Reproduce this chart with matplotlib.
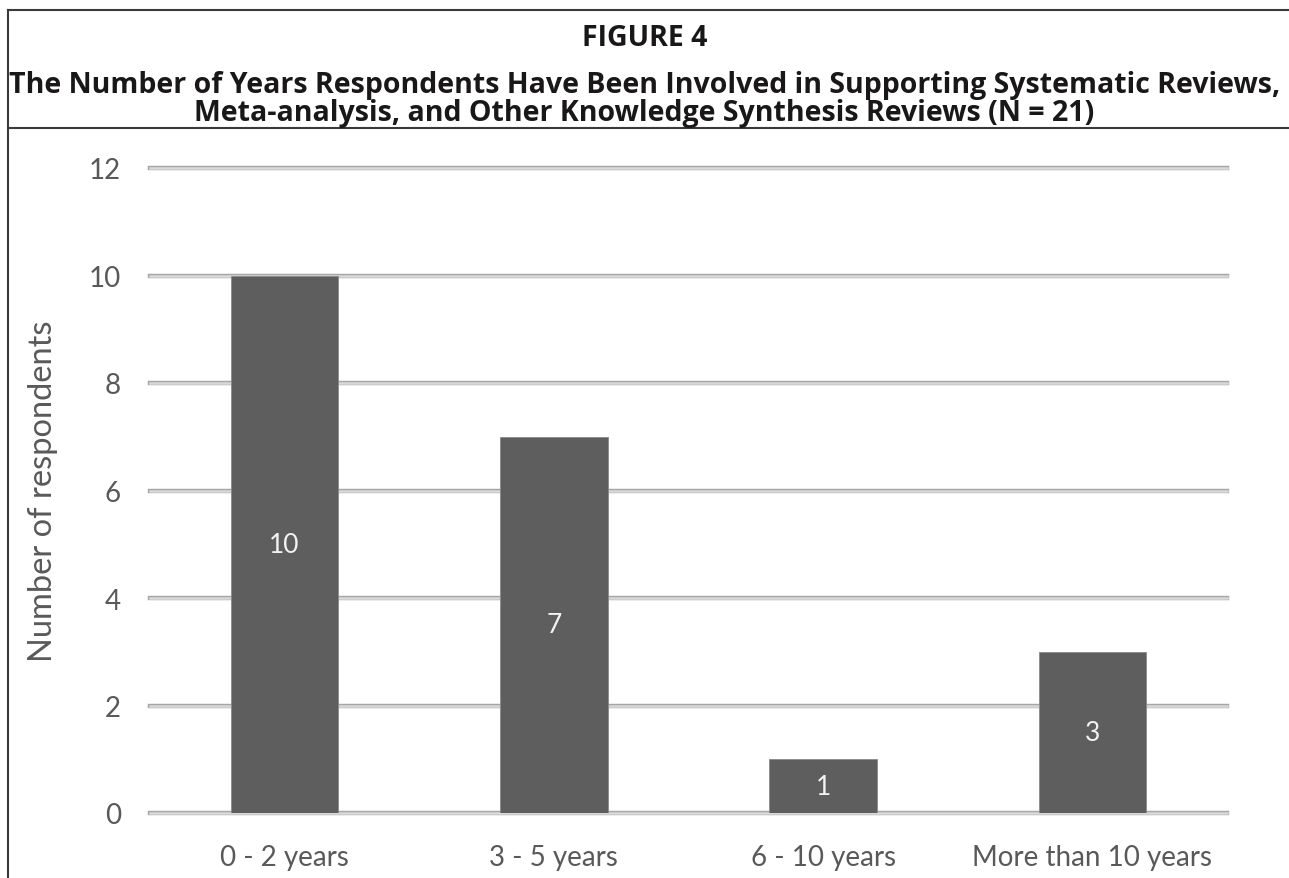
import matplotlib.pyplot as plt
from matplotlib.lines import Line2D

categories = ["0 - 2 years", "3 - 5 years", "6 - 10 years", "More than 10 years"]
respondents = [10, 7, 1, 3]
y_ticks = [0, 2, 4, 6, 8, 10, 12]

plt.rcParams['font.family'] = ['Lato', 'DejaVu Sans']

fig = plt.figure(figsize=(12.89, 8.79), dpi=100)
ax = fig.add_axes([150 / 1289, 1 - 814 / 879, 1077 / 1289, (814 - 169) / 879])

x = range(len(categories))
bars = ax.bar(x, respondents, width=0.4, color="#5e5e5e", edgecolor="#8a8a8a",
              linewidth=0.6, zorder=3)

for b, v in zip(bars, respondents):
    ax.text(b.get_x() + b.get_width() / 2, v / 2, str(v), ha="center", va="center",
            color="#f2f2f2", fontsize=19, zorder=4)

ax.set_xlim(-0.5, len(categories) - 0.5)
ax.set_ylim(0, 12)
ax.set_yticks(y_ticks)
ax.set_xticks(list(x))
ax.set_xticklabels(categories)
ax.tick_params(axis="both", length=0, labelsize=20, colors="#595959")
ax.tick_params(axis="y", pad=21)
ax.tick_params(axis="x", pad=22)
ax.set_ylabel("Number of respondents", fontsize=23.5, color="#595959")
ax.yaxis.set_label_coords((58 - 150) / 1077, 0.5)

for yv in y_ticks:
    ax.axhline(yv, color="#a6a6a6", linewidth=3.2, zorder=1, clip_on=False)
    ax.axhline(yv, color="#d9d9d9", linewidth=1.8, zorder=2, clip_on=False)

for s in ax.spines.values():
    s.set_visible(False)

# frame and title
tfont = ['Open Sans', 'DejaVu Sans']
tcol = "#1a1718"
fig.text(0.5, 1 - 38 / 879, "FIGURE 4", ha="center", va="center", fontsize=20.5,
         fontweight="bold", color=tcol, family=tfont)
fig.text(0.5, 1 - 86 / 879,
         "The Number of Years Respondents Have Been Involved in Supporting Systematic Reviews,",
         ha="center", va="center", fontsize=20.5, fontweight="bold", color=tcol, family=tfont)
fig.text(0.5, 1 - 114 / 879,
         "Meta-analysis, and Other Knowledge Synthesis Reviews (N = 21)",
         ha="center", va="center", fontsize=20.5, fontweight="bold", color=tcol, family=tfont)

lc = "#3a3a3a"
fig.add_artist(Line2D([8 / 1289, 1], [1 - 11 / 879, 1 - 11 / 879], color=lc, lw=1.5))
fig.add_artist(Line2D([8 / 1289, 1], [1 - 129 / 879, 1 - 129 / 879], color=lc, lw=1.5))
fig.add_artist(Line2D([8 / 1289, 8 / 1289], [0, 1 - 11 / 879], color=lc, lw=1.5))

fig.savefig("out.png", dpi=100)
